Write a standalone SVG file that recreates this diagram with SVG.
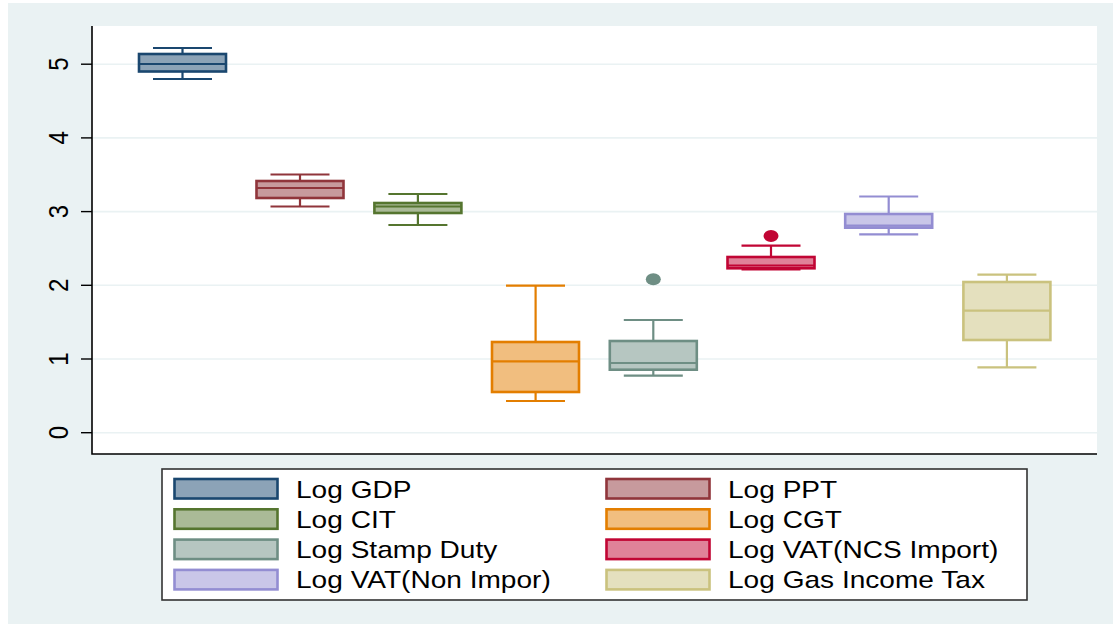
<svg xmlns="http://www.w3.org/2000/svg" width="1113" height="627" viewBox="0 0 1113 627">
<style>
.bg{fill:#eaf2f3}
.grid{stroke:#eaf2f3;stroke-width:1.6}
.axis{stroke:#000;stroke-width:1.6;fill:none}
.tick{stroke:#000;stroke-width:1.4}
.lbl{font-family:"Liberation Sans",Arial,sans-serif;font-size:24px;fill:#000}
.box{stroke-width:2.6}
.wh{stroke-width:2.2;fill:none}
.c1{stroke:#1a476f}.f1{fill:#8ca3b7}
.c2{stroke:#90353b}.f2{fill:#c79a9d}
.c3{stroke:#55752f}.f3{fill:#aaba97}
.c4{stroke:#e37e00}.f4{fill:#f1be7f}
.c5{stroke:#6e8e84}.f5{fill:#b6c6c1}
.c6{stroke:#c10534}.f6{fill:#e08299}
.c7{stroke:#938dd2}.f7{fill:#c9c6e8}
.c8{stroke:#cac27e}.f8{fill:#e4e0be}
</style>
<rect x="8" y="3" width="1105" height="621" class="bg"/>
<rect x="92" y="26" width="1005" height="428" fill="#fff"/>
<g id="grid">
<line class="grid" x1="92" x2="1097" y1="64.2" y2="64.2"/>
<line class="grid" x1="92" x2="1097" y1="137.9" y2="137.9"/>
<line class="grid" x1="92" x2="1097" y1="211.6" y2="211.6"/>
<line class="grid" x1="92" x2="1097" y1="285.3" y2="285.3"/>
<line class="grid" x1="92" x2="1097" y1="359" y2="359"/>
<line class="grid" x1="92" x2="1097" y1="432.7" y2="432.7"/>
</g>
<g id="axes">
<polyline class="axis" points="92,26 92,454 1097,454"/>
<line class="tick" x1="81" x2="92" y1="64.2" y2="64.2"/>
<line class="tick" x1="81" x2="92" y1="137.9" y2="137.9"/>
<line class="tick" x1="81" x2="92" y1="211.6" y2="211.6"/>
<line class="tick" x1="81" x2="92" y1="285.3" y2="285.3"/>
<line class="tick" x1="81" x2="92" y1="359" y2="359"/>
<line class="tick" x1="81" x2="92" y1="432.7" y2="432.7"/>
<text class="lbl" text-anchor="middle" transform="translate(68,64.2) scale(1.16,1) rotate(-90)">5</text>
<text class="lbl" text-anchor="middle" transform="translate(68,137.9) scale(1.16,1) rotate(-90)">4</text>
<text class="lbl" text-anchor="middle" transform="translate(68,211.6) scale(1.16,1) rotate(-90)">3</text>
<text class="lbl" text-anchor="middle" transform="translate(68,285.3) scale(1.16,1) rotate(-90)">2</text>
<text class="lbl" text-anchor="middle" transform="translate(68,359) scale(1.16,1) rotate(-90)">1</text>
<text class="lbl" text-anchor="middle" transform="translate(68,432.7) scale(1.16,1) rotate(-90)">0</text>
</g>
<g id="box-gdp">
<path class="wh c1" d="M182.5,54V48M153,48H212M182.5,71.5V79M153,79H212"/>
<rect class="box c1 f1" x="139" y="54" width="87" height="17.5"/>
<line class="wh c1" x1="139" x2="226" y1="64" y2="64"/>
</g>
<g id="box-ppt">
<path class="wh c2" d="M300,181V174.5M270.5,174.5H329.5M300,198V206.5M270.5,206.5H329.5"/>
<rect class="box c2 f2" x="256.5" y="181" width="87" height="17"/>
<line class="wh c2" x1="256.5" x2="343.5" y1="188" y2="188"/>
</g>
<g id="box-cit">
<path class="wh c3" d="M417.9,203V194M388.4,194H447.4M417.9,213V225M388.4,225H447.4"/>
<rect class="box c3 f3" x="374.4" y="203" width="87" height="10"/>
<line class="wh c3" x1="374.4" x2="461.4" y1="206.5" y2="206.5"/>
</g>
<g id="box-cgt">
<path class="wh c4" d="M535.6,342V285.7M506,285.7H565M535.6,392V401M506,401H565"/>
<rect class="box c4 f4" x="492" y="342" width="87" height="50"/>
<line class="wh c4" x1="492" x2="579" y1="361.3" y2="361.3"/>
</g>
<g id="box-stamp">
<path class="wh c5" d="M653.3,341V320M623.8,320H682.8M653.3,369.7V375.7M623.8,375.7H682.8"/>
<rect class="box c5 f5" x="609.8" y="341" width="87" height="28.7"/>
<line class="wh c5" x1="609.8" x2="696.8" y1="363" y2="363"/>
<ellipse cx="653.3" cy="279.3" rx="7.5" ry="6" fill="#6e8e84"/>
</g>
<g id="box-vatncs">
<path class="wh c6" d="M771,257V245.7M741.5,245.7H800.5M741.5,269.3H800.5"/>
<rect class="box c6 f6" x="727.5" y="257" width="87" height="11.3"/>
<line class="wh c6" x1="727.5" x2="814.5" y1="265.5" y2="265.5"/>
<ellipse cx="771" cy="236" rx="7.5" ry="6" fill="#c10534"/>
</g>
<g id="box-vatnon">
<path class="wh c7" d="M888.7,214V196.5M859.2,196.5H918.2M888.7,227.7V234.3M859.2,234.3H918.2"/>
<rect class="box c7 f7" x="845.2" y="214" width="87" height="13.7"/>
<line class="wh c7" x1="845.2" x2="932.2" y1="225.7" y2="225.7"/>
</g>
<g id="box-gas">
<path class="wh c8" d="M1006.9,282V274.7M977.4,274.7H1036.4M1006.9,340V367.3M977.4,367.3H1036.4"/>
<rect class="box c8 f8" x="963.4" y="282" width="87" height="58"/>
<line class="wh c8" x1="963.4" x2="1050.4" y1="310.7" y2="310.7"/>
</g>
<g id="legend">
<rect x="162" y="469" width="865" height="131" fill="#fff" stroke="#333" stroke-width="1.6"/>
<g id="leg-gdp"><rect class="box c1 f1" x="174.5" y="479" width="103" height="19.5" stroke-width="2.4"/><text class="lbl" transform="translate(296,497.5) scale(1.17,1)">Log GDP</text></g>
<g id="leg-ppt"><rect class="box c2 f2" x="606.5" y="479" width="103" height="19.5" stroke-width="2.4"/><text class="lbl" transform="translate(728,497.5) scale(1.17,1)">Log PPT</text></g>
<g id="leg-cit"><rect class="box c3 f3" x="174.5" y="509.3" width="103" height="19.5" stroke-width="2.4"/><text class="lbl" transform="translate(296,527.8) scale(1.17,1)">Log CIT</text></g>
<g id="leg-cgt"><rect class="box c4 f4" x="606.5" y="509.3" width="103" height="19.5" stroke-width="2.4"/><text class="lbl" transform="translate(728,527.8) scale(1.17,1)">Log CGT</text></g>
<g id="leg-stamp"><rect class="box c5 f5" x="174.5" y="539.6" width="103" height="19.5" stroke-width="2.4"/><text class="lbl" transform="translate(296,558.1) scale(1.17,1)">Log Stamp Duty</text></g>
<g id="leg-vatncs"><rect class="box c6 f6" x="606.5" y="539.6" width="103" height="19.5" stroke-width="2.4"/><text class="lbl" transform="translate(728,558.1) scale(1.17,1)">Log VAT(NCS Import)</text></g>
<g id="leg-vatnon"><rect class="box c7 f7" x="174.5" y="569.9" width="103" height="19.5" stroke-width="2.4"/><text class="lbl" transform="translate(296,588.4) scale(1.17,1)">Log VAT(Non Impor)</text></g>
<g id="leg-gas"><rect class="box c8 f8" x="606.5" y="569.9" width="103" height="19.5" stroke-width="2.4"/><text class="lbl" transform="translate(728,588.4) scale(1.17,1)">Log Gas Income Tax</text></g>
</g>
<g id="connectors"/>
</svg>
